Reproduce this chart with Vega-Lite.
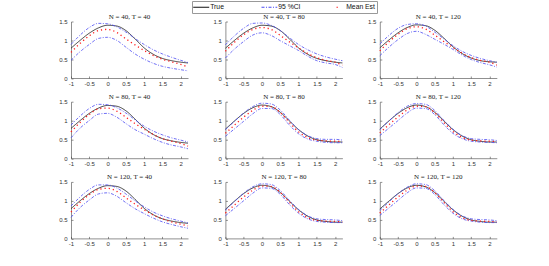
{
"$schema":"https://vega.github.io/schema/vega-lite/v6.json",
"background":"white",
"padding":{"left":58,"top":0.5,"right":5,"bottom":5},
"datasets":{"d":[
{"p":1,"s":"True","k":"T","x":-1,"y":0.79},{"p":1,"s":"True","k":"T","x":-0.75,"y":1.00},{"p":1,"s":"True","k":"T","x":-0.5,"y":1.19},{"p":1,"s":"True","k":"T","x":-0.25,"y":1.33},{"p":1,"s":"True","k":"T","x":0,"y":1.40},{"p":1,"s":"True","k":"T","x":0.25,"y":1.38},{"p":1,"s":"True","k":"T","x":0.5,"y":1.26},{"p":1,"s":"True","k":"T","x":0.75,"y":1.04},{"p":1,"s":"True","k":"T","x":1,"y":0.80},{"p":1,"s":"True","k":"T","x":1.25,"y":0.63},{"p":1,"s":"True","k":"T","x":1.5,"y":0.52},{"p":1,"s":"True","k":"T","x":1.75,"y":0.46},{"p":1,"s":"True","k":"T","x":2,"y":0.42},{"p":1,"s":"True","k":"T","x":2.2,"y":0.40},
{"p":1,"s":"95 %CI","k":"U","x":-1,"y":0.89},{"p":1,"s":"95 %CI","k":"U","x":-0.75,"y":1.14},{"p":1,"s":"95 %CI","k":"U","x":-0.5,"y":1.34},{"p":1,"s":"95 %CI","k":"U","x":-0.25,"y":1.45},{"p":1,"s":"95 %CI","k":"U","x":0,"y":1.44},{"p":1,"s":"95 %CI","k":"U","x":0.25,"y":1.36},{"p":1,"s":"95 %CI","k":"U","x":0.5,"y":1.22},{"p":1,"s":"95 %CI","k":"U","x":0.75,"y":1.05},{"p":1,"s":"95 %CI","k":"U","x":1,"y":0.89},{"p":1,"s":"95 %CI","k":"U","x":1.25,"y":0.75},{"p":1,"s":"95 %CI","k":"U","x":1.5,"y":0.64},{"p":1,"s":"95 %CI","k":"U","x":1.75,"y":0.55},{"p":1,"s":"95 %CI","k":"U","x":2,"y":0.47},{"p":1,"s":"95 %CI","k":"U","x":2.2,"y":0.41},
{"p":1,"s":"95 %CI","k":"L","x":-1,"y":0.47},{"p":1,"s":"95 %CI","k":"L","x":-0.75,"y":0.70},{"p":1,"s":"95 %CI","k":"L","x":-0.5,"y":0.89},{"p":1,"s":"95 %CI","k":"L","x":-0.25,"y":1.05},{"p":1,"s":"95 %CI","k":"L","x":0,"y":1.08},{"p":1,"s":"95 %CI","k":"L","x":0.25,"y":1.00},{"p":1,"s":"95 %CI","k":"L","x":0.5,"y":0.82},{"p":1,"s":"95 %CI","k":"L","x":0.75,"y":0.64},{"p":1,"s":"95 %CI","k":"L","x":1,"y":0.50},{"p":1,"s":"95 %CI","k":"L","x":1.25,"y":0.39},{"p":1,"s":"95 %CI","k":"L","x":1.5,"y":0.31},{"p":1,"s":"95 %CI","k":"L","x":1.75,"y":0.26},{"p":1,"s":"95 %CI","k":"L","x":2,"y":0.22},{"p":1,"s":"95 %CI","k":"L","x":2.2,"y":0.19},
{"p":1,"s":"Mean Est","k":"M","x":-1,"y":0.68},{"p":1,"s":"Mean Est","k":"M","x":-0.75,"y":0.92},{"p":1,"s":"Mean Est","k":"M","x":-0.5,"y":1.12},{"p":1,"s":"Mean Est","k":"M","x":-0.25,"y":1.26},{"p":1,"s":"Mean Est","k":"M","x":0,"y":1.29},{"p":1,"s":"Mean Est","k":"M","x":0.25,"y":1.21},{"p":1,"s":"Mean Est","k":"M","x":0.5,"y":1.04},{"p":1,"s":"Mean Est","k":"M","x":0.75,"y":0.88},{"p":1,"s":"Mean Est","k":"M","x":1,"y":0.73},{"p":1,"s":"Mean Est","k":"M","x":1.25,"y":0.60},{"p":1,"s":"Mean Est","k":"M","x":1.5,"y":0.50},{"p":1,"s":"Mean Est","k":"M","x":1.75,"y":0.43},{"p":1,"s":"Mean Est","k":"M","x":2,"y":0.36},{"p":1,"s":"Mean Est","k":"M","x":2.2,"y":0.29},

{"p":2,"s":"True","k":"T","x":-1,"y":0.79},{"p":2,"s":"True","k":"T","x":-0.75,"y":1.00},{"p":2,"s":"True","k":"T","x":-0.5,"y":1.19},{"p":2,"s":"True","k":"T","x":-0.25,"y":1.33},{"p":2,"s":"True","k":"T","x":0,"y":1.40},{"p":2,"s":"True","k":"T","x":0.25,"y":1.38},{"p":2,"s":"True","k":"T","x":0.5,"y":1.26},{"p":2,"s":"True","k":"T","x":0.75,"y":1.04},{"p":2,"s":"True","k":"T","x":1,"y":0.80},{"p":2,"s":"True","k":"T","x":1.25,"y":0.63},{"p":2,"s":"True","k":"T","x":1.5,"y":0.52},{"p":2,"s":"True","k":"T","x":1.75,"y":0.46},{"p":2,"s":"True","k":"T","x":2,"y":0.42},{"p":2,"s":"True","k":"T","x":2.2,"y":0.40},
{"p":2,"s":"95 %CI","k":"U","x":-1,"y":0.88},{"p":2,"s":"95 %CI","k":"U","x":-0.75,"y":1.12},{"p":2,"s":"95 %CI","k":"U","x":-0.5,"y":1.32},{"p":2,"s":"95 %CI","k":"U","x":-0.25,"y":1.45},{"p":2,"s":"95 %CI","k":"U","x":0,"y":1.46},{"p":2,"s":"95 %CI","k":"U","x":0.25,"y":1.40},{"p":2,"s":"95 %CI","k":"U","x":0.5,"y":1.26},{"p":2,"s":"95 %CI","k":"U","x":0.75,"y":1.07},{"p":2,"s":"95 %CI","k":"U","x":1,"y":0.89},{"p":2,"s":"95 %CI","k":"U","x":1.25,"y":0.75},{"p":2,"s":"95 %CI","k":"U","x":1.5,"y":0.64},{"p":2,"s":"95 %CI","k":"U","x":1.75,"y":0.56},{"p":2,"s":"95 %CI","k":"U","x":2,"y":0.50},{"p":2,"s":"95 %CI","k":"U","x":2.2,"y":0.46},
{"p":2,"s":"95 %CI","k":"L","x":-1,"y":0.53},{"p":2,"s":"95 %CI","k":"L","x":-0.75,"y":0.77},{"p":2,"s":"95 %CI","k":"L","x":-0.5,"y":0.97},{"p":2,"s":"95 %CI","k":"L","x":-0.25,"y":1.14},{"p":2,"s":"95 %CI","k":"L","x":0,"y":1.20},{"p":2,"s":"95 %CI","k":"L","x":0.25,"y":1.13},{"p":2,"s":"95 %CI","k":"L","x":0.5,"y":0.99},{"p":2,"s":"95 %CI","k":"L","x":0.75,"y":0.86},{"p":2,"s":"95 %CI","k":"L","x":1,"y":0.73},{"p":2,"s":"95 %CI","k":"L","x":1.25,"y":0.58},{"p":2,"s":"95 %CI","k":"L","x":1.5,"y":0.46},{"p":2,"s":"95 %CI","k":"L","x":1.75,"y":0.40},{"p":2,"s":"95 %CI","k":"L","x":2,"y":0.36},{"p":2,"s":"95 %CI","k":"L","x":2.2,"y":0.28},
{"p":2,"s":"Mean Est","k":"M","x":-1,"y":0.71},{"p":2,"s":"Mean Est","k":"M","x":-0.75,"y":0.95},{"p":2,"s":"Mean Est","k":"M","x":-0.5,"y":1.15},{"p":2,"s":"Mean Est","k":"M","x":-0.25,"y":1.29},{"p":2,"s":"Mean Est","k":"M","x":0,"y":1.34},{"p":2,"s":"Mean Est","k":"M","x":0.25,"y":1.29},{"p":2,"s":"Mean Est","k":"M","x":0.5,"y":1.13},{"p":2,"s":"Mean Est","k":"M","x":0.75,"y":0.96},{"p":2,"s":"Mean Est","k":"M","x":1,"y":0.80},{"p":2,"s":"Mean Est","k":"M","x":1.25,"y":0.65},{"p":2,"s":"Mean Est","k":"M","x":1.5,"y":0.54},{"p":2,"s":"Mean Est","k":"M","x":1.75,"y":0.47},{"p":2,"s":"Mean Est","k":"M","x":2,"y":0.42},{"p":2,"s":"Mean Est","k":"M","x":2.2,"y":0.34},

{"p":3,"s":"True","k":"T","x":-1,"y":0.80},{"p":3,"s":"True","k":"T","x":-0.75,"y":1.01},{"p":3,"s":"True","k":"T","x":-0.5,"y":1.20},{"p":3,"s":"True","k":"T","x":-0.25,"y":1.34},{"p":3,"s":"True","k":"T","x":0,"y":1.41},{"p":3,"s":"True","k":"T","x":0.25,"y":1.39},{"p":3,"s":"True","k":"T","x":0.5,"y":1.27},{"p":3,"s":"True","k":"T","x":0.75,"y":1.06},{"p":3,"s":"True","k":"T","x":1,"y":0.83},{"p":3,"s":"True","k":"T","x":1.25,"y":0.65},{"p":3,"s":"True","k":"T","x":1.5,"y":0.53},{"p":3,"s":"True","k":"T","x":1.75,"y":0.46},{"p":3,"s":"True","k":"T","x":2,"y":0.43},{"p":3,"s":"True","k":"T","x":2.2,"y":0.42},
{"p":3,"s":"95 %CI","k":"U","x":-1,"y":0.90},{"p":3,"s":"95 %CI","k":"U","x":-0.75,"y":1.13},{"p":3,"s":"95 %CI","k":"U","x":-0.5,"y":1.32},{"p":3,"s":"95 %CI","k":"U","x":-0.25,"y":1.42},{"p":3,"s":"95 %CI","k":"U","x":0,"y":1.44},{"p":3,"s":"95 %CI","k":"U","x":0.25,"y":1.38},{"p":3,"s":"95 %CI","k":"U","x":0.5,"y":1.22},{"p":3,"s":"95 %CI","k":"U","x":0.75,"y":1.04},{"p":3,"s":"95 %CI","k":"U","x":1,"y":0.86},{"p":3,"s":"95 %CI","k":"U","x":1.25,"y":0.71},{"p":3,"s":"95 %CI","k":"U","x":1.5,"y":0.60},{"p":3,"s":"95 %CI","k":"U","x":1.75,"y":0.52},{"p":3,"s":"95 %CI","k":"U","x":2,"y":0.46},{"p":3,"s":"95 %CI","k":"U","x":2.2,"y":0.42},
{"p":3,"s":"95 %CI","k":"L","x":-1,"y":0.59},{"p":3,"s":"95 %CI","k":"L","x":-0.75,"y":0.82},{"p":3,"s":"95 %CI","k":"L","x":-0.5,"y":1.02},{"p":3,"s":"95 %CI","k":"L","x":-0.25,"y":1.18},{"p":3,"s":"95 %CI","k":"L","x":0,"y":1.24},{"p":3,"s":"95 %CI","k":"L","x":0.25,"y":1.16},{"p":3,"s":"95 %CI","k":"L","x":0.5,"y":1.03},{"p":3,"s":"95 %CI","k":"L","x":0.75,"y":0.90},{"p":3,"s":"95 %CI","k":"L","x":1,"y":0.76},{"p":3,"s":"95 %CI","k":"L","x":1.25,"y":0.61},{"p":3,"s":"95 %CI","k":"L","x":1.5,"y":0.49},{"p":3,"s":"95 %CI","k":"L","x":1.75,"y":0.41},{"p":3,"s":"95 %CI","k":"L","x":2,"y":0.35},{"p":3,"s":"95 %CI","k":"L","x":2.2,"y":0.29},
{"p":3,"s":"Mean Est","k":"M","x":-1,"y":0.72},{"p":3,"s":"Mean Est","k":"M","x":-0.75,"y":0.96},{"p":3,"s":"Mean Est","k":"M","x":-0.5,"y":1.16},{"p":3,"s":"Mean Est","k":"M","x":-0.25,"y":1.31},{"p":3,"s":"Mean Est","k":"M","x":0,"y":1.36},{"p":3,"s":"Mean Est","k":"M","x":0.25,"y":1.30},{"p":3,"s":"Mean Est","k":"M","x":0.5,"y":1.14},{"p":3,"s":"Mean Est","k":"M","x":0.75,"y":0.97},{"p":3,"s":"Mean Est","k":"M","x":1,"y":0.81},{"p":3,"s":"Mean Est","k":"M","x":1.25,"y":0.66},{"p":3,"s":"Mean Est","k":"M","x":1.5,"y":0.54},{"p":3,"s":"Mean Est","k":"M","x":1.75,"y":0.47},{"p":3,"s":"Mean Est","k":"M","x":2,"y":0.42},{"p":3,"s":"Mean Est","k":"M","x":2.2,"y":0.34},

{"p":4,"s":"True","k":"T","x":-1,"y":0.79},{"p":4,"s":"True","k":"T","x":-0.75,"y":1.00},{"p":4,"s":"True","k":"T","x":-0.5,"y":1.19},{"p":4,"s":"True","k":"T","x":-0.25,"y":1.33},{"p":4,"s":"True","k":"T","x":0,"y":1.40},{"p":4,"s":"True","k":"T","x":0.25,"y":1.38},{"p":4,"s":"True","k":"T","x":0.5,"y":1.26},{"p":4,"s":"True","k":"T","x":0.75,"y":1.04},{"p":4,"s":"True","k":"T","x":1,"y":0.80},{"p":4,"s":"True","k":"T","x":1.25,"y":0.63},{"p":4,"s":"True","k":"T","x":1.5,"y":0.52},{"p":4,"s":"True","k":"T","x":1.75,"y":0.46},{"p":4,"s":"True","k":"T","x":2,"y":0.42},{"p":4,"s":"True","k":"T","x":2.2,"y":0.40},
{"p":4,"s":"95 %CI","k":"U","x":-1,"y":0.88},{"p":4,"s":"95 %CI","k":"U","x":-0.75,"y":1.12},{"p":4,"s":"95 %CI","k":"U","x":-0.5,"y":1.32},{"p":4,"s":"95 %CI","k":"U","x":-0.25,"y":1.43},{"p":4,"s":"95 %CI","k":"U","x":0,"y":1.42},{"p":4,"s":"95 %CI","k":"U","x":0.25,"y":1.34},{"p":4,"s":"95 %CI","k":"U","x":0.5,"y":1.20},{"p":4,"s":"95 %CI","k":"U","x":0.75,"y":1.02},{"p":4,"s":"95 %CI","k":"U","x":1,"y":0.85},{"p":4,"s":"95 %CI","k":"U","x":1.25,"y":0.72},{"p":4,"s":"95 %CI","k":"U","x":1.5,"y":0.62},{"p":4,"s":"95 %CI","k":"U","x":1.75,"y":0.54},{"p":4,"s":"95 %CI","k":"U","x":2,"y":0.48},{"p":4,"s":"95 %CI","k":"U","x":2.2,"y":0.43},
{"p":4,"s":"95 %CI","k":"L","x":-1,"y":0.54},{"p":4,"s":"95 %CI","k":"L","x":-0.75,"y":0.80},{"p":4,"s":"95 %CI","k":"L","x":-0.5,"y":1.00},{"p":4,"s":"95 %CI","k":"L","x":-0.25,"y":1.17},{"p":4,"s":"95 %CI","k":"L","x":0,"y":1.19},{"p":4,"s":"95 %CI","k":"L","x":0.25,"y":1.09},{"p":4,"s":"95 %CI","k":"L","x":0.5,"y":0.92},{"p":4,"s":"95 %CI","k":"L","x":0.75,"y":0.76},{"p":4,"s":"95 %CI","k":"L","x":1,"y":0.64},{"p":4,"s":"95 %CI","k":"L","x":1.25,"y":0.52},{"p":4,"s":"95 %CI","k":"L","x":1.5,"y":0.42},{"p":4,"s":"95 %CI","k":"L","x":1.75,"y":0.35},{"p":4,"s":"95 %CI","k":"L","x":2,"y":0.30},{"p":4,"s":"95 %CI","k":"L","x":2.2,"y":0.25},
{"p":4,"s":"Mean Est","k":"M","x":-1,"y":0.70},{"p":4,"s":"Mean Est","k":"M","x":-0.75,"y":0.95},{"p":4,"s":"Mean Est","k":"M","x":-0.5,"y":1.16},{"p":4,"s":"Mean Est","k":"M","x":-0.25,"y":1.31},{"p":4,"s":"Mean Est","k":"M","x":0,"y":1.33},{"p":4,"s":"Mean Est","k":"M","x":0.25,"y":1.25},{"p":4,"s":"Mean Est","k":"M","x":0.5,"y":1.09},{"p":4,"s":"Mean Est","k":"M","x":0.75,"y":0.92},{"p":4,"s":"Mean Est","k":"M","x":1,"y":0.77},{"p":4,"s":"Mean Est","k":"M","x":1.25,"y":0.63},{"p":4,"s":"Mean Est","k":"M","x":1.5,"y":0.52},{"p":4,"s":"Mean Est","k":"M","x":1.75,"y":0.45},{"p":4,"s":"Mean Est","k":"M","x":2,"y":0.39},{"p":4,"s":"Mean Est","k":"M","x":2.2,"y":0.32},

{"p":5,"s":"True","k":"T","x":-1,"y":0.77},{"p":5,"s":"True","k":"T","x":-0.75,"y":0.99},{"p":5,"s":"True","k":"T","x":-0.5,"y":1.19},{"p":5,"s":"True","k":"T","x":-0.25,"y":1.34},{"p":5,"s":"True","k":"T","x":0,"y":1.41},{"p":5,"s":"True","k":"T","x":0.25,"y":1.37},{"p":5,"s":"True","k":"T","x":0.5,"y":1.22},{"p":5,"s":"True","k":"T","x":0.75,"y":0.99},{"p":5,"s":"True","k":"T","x":1,"y":0.76},{"p":5,"s":"True","k":"T","x":1.25,"y":0.59},{"p":5,"s":"True","k":"T","x":1.5,"y":0.49},{"p":5,"s":"True","k":"T","x":1.75,"y":0.45},{"p":5,"s":"True","k":"T","x":2,"y":0.43},{"p":5,"s":"True","k":"T","x":2.2,"y":0.43},
{"p":5,"s":"95 %CI","k":"U","x":-1,"y":0.76},{"p":5,"s":"95 %CI","k":"U","x":-0.75,"y":0.98},{"p":5,"s":"95 %CI","k":"U","x":-0.5,"y":1.20},{"p":5,"s":"95 %CI","k":"U","x":-0.25,"y":1.37},{"p":5,"s":"95 %CI","k":"U","x":0,"y":1.46},{"p":5,"s":"95 %CI","k":"U","x":0.25,"y":1.44},{"p":5,"s":"95 %CI","k":"U","x":0.5,"y":1.28},{"p":5,"s":"95 %CI","k":"U","x":0.75,"y":1.01},{"p":5,"s":"95 %CI","k":"U","x":1,"y":0.76},{"p":5,"s":"95 %CI","k":"U","x":1.25,"y":0.60},{"p":5,"s":"95 %CI","k":"U","x":1.5,"y":0.52},{"p":5,"s":"95 %CI","k":"U","x":1.75,"y":0.50},{"p":5,"s":"95 %CI","k":"U","x":2,"y":0.50},{"p":5,"s":"95 %CI","k":"U","x":2.2,"y":0.48},
{"p":5,"s":"95 %CI","k":"L","x":-1,"y":0.58},{"p":5,"s":"95 %CI","k":"L","x":-0.75,"y":0.78},{"p":5,"s":"95 %CI","k":"L","x":-0.5,"y":0.98},{"p":5,"s":"95 %CI","k":"L","x":-0.25,"y":1.18},{"p":5,"s":"95 %CI","k":"L","x":0,"y":1.32},{"p":5,"s":"95 %CI","k":"L","x":0.25,"y":1.32},{"p":5,"s":"95 %CI","k":"L","x":0.5,"y":1.16},{"p":5,"s":"95 %CI","k":"L","x":0.75,"y":0.88},{"p":5,"s":"95 %CI","k":"L","x":1,"y":0.65},{"p":5,"s":"95 %CI","k":"L","x":1.25,"y":0.51},{"p":5,"s":"95 %CI","k":"L","x":1.5,"y":0.45},{"p":5,"s":"95 %CI","k":"L","x":1.75,"y":0.42},{"p":5,"s":"95 %CI","k":"L","x":2,"y":0.41},{"p":5,"s":"95 %CI","k":"L","x":2.2,"y":0.41},
{"p":5,"s":"Mean Est","k":"M","x":-1,"y":0.66},{"p":5,"s":"Mean Est","k":"M","x":-0.75,"y":0.88},{"p":5,"s":"Mean Est","k":"M","x":-0.5,"y":1.09},{"p":5,"s":"Mean Est","k":"M","x":-0.25,"y":1.27},{"p":5,"s":"Mean Est","k":"M","x":0,"y":1.38},{"p":5,"s":"Mean Est","k":"M","x":0.25,"y":1.37},{"p":5,"s":"Mean Est","k":"M","x":0.5,"y":1.21},{"p":5,"s":"Mean Est","k":"M","x":0.75,"y":0.95},{"p":5,"s":"Mean Est","k":"M","x":1,"y":0.70},{"p":5,"s":"Mean Est","k":"M","x":1.25,"y":0.55},{"p":5,"s":"Mean Est","k":"M","x":1.5,"y":0.48},{"p":5,"s":"Mean Est","k":"M","x":1.75,"y":0.46},{"p":5,"s":"Mean Est","k":"M","x":2,"y":0.45},{"p":5,"s":"Mean Est","k":"M","x":2.2,"y":0.44},

{"p":6,"s":"True","k":"T","x":-1,"y":0.77},{"p":6,"s":"True","k":"T","x":-0.75,"y":0.99},{"p":6,"s":"True","k":"T","x":-0.5,"y":1.19},{"p":6,"s":"True","k":"T","x":-0.25,"y":1.34},{"p":6,"s":"True","k":"T","x":0,"y":1.41},{"p":6,"s":"True","k":"T","x":0.25,"y":1.37},{"p":6,"s":"True","k":"T","x":0.5,"y":1.22},{"p":6,"s":"True","k":"T","x":0.75,"y":0.99},{"p":6,"s":"True","k":"T","x":1,"y":0.76},{"p":6,"s":"True","k":"T","x":1.25,"y":0.59},{"p":6,"s":"True","k":"T","x":1.5,"y":0.49},{"p":6,"s":"True","k":"T","x":1.75,"y":0.45},{"p":6,"s":"True","k":"T","x":2,"y":0.43},{"p":6,"s":"True","k":"T","x":2.2,"y":0.43},
{"p":6,"s":"95 %CI","k":"U","x":-1,"y":0.76},{"p":6,"s":"95 %CI","k":"U","x":-0.75,"y":0.99},{"p":6,"s":"95 %CI","k":"U","x":-0.5,"y":1.21},{"p":6,"s":"95 %CI","k":"U","x":-0.25,"y":1.38},{"p":6,"s":"95 %CI","k":"U","x":0,"y":1.45},{"p":6,"s":"95 %CI","k":"U","x":0.25,"y":1.43},{"p":6,"s":"95 %CI","k":"U","x":0.5,"y":1.27},{"p":6,"s":"95 %CI","k":"U","x":0.75,"y":1.01},{"p":6,"s":"95 %CI","k":"U","x":1,"y":0.77},{"p":6,"s":"95 %CI","k":"U","x":1.25,"y":0.60},{"p":6,"s":"95 %CI","k":"U","x":1.5,"y":0.52},{"p":6,"s":"95 %CI","k":"U","x":1.75,"y":0.50},{"p":6,"s":"95 %CI","k":"U","x":2,"y":0.49},{"p":6,"s":"95 %CI","k":"U","x":2.2,"y":0.47},
{"p":6,"s":"95 %CI","k":"L","x":-1,"y":0.60},{"p":6,"s":"95 %CI","k":"L","x":-0.75,"y":0.80},{"p":6,"s":"95 %CI","k":"L","x":-0.5,"y":1.00},{"p":6,"s":"95 %CI","k":"L","x":-0.25,"y":1.20},{"p":6,"s":"95 %CI","k":"L","x":0,"y":1.33},{"p":6,"s":"95 %CI","k":"L","x":0.25,"y":1.32},{"p":6,"s":"95 %CI","k":"L","x":0.5,"y":1.16},{"p":6,"s":"95 %CI","k":"L","x":0.75,"y":0.89},{"p":6,"s":"95 %CI","k":"L","x":1,"y":0.66},{"p":6,"s":"95 %CI","k":"L","x":1.25,"y":0.52},{"p":6,"s":"95 %CI","k":"L","x":1.5,"y":0.45},{"p":6,"s":"95 %CI","k":"L","x":1.75,"y":0.43},{"p":6,"s":"95 %CI","k":"L","x":2,"y":0.42},{"p":6,"s":"95 %CI","k":"L","x":2.2,"y":0.41},
{"p":6,"s":"Mean Est","k":"M","x":-1,"y":0.67},{"p":6,"s":"Mean Est","k":"M","x":-0.75,"y":0.89},{"p":6,"s":"Mean Est","k":"M","x":-0.5,"y":1.10},{"p":6,"s":"Mean Est","k":"M","x":-0.25,"y":1.28},{"p":6,"s":"Mean Est","k":"M","x":0,"y":1.38},{"p":6,"s":"Mean Est","k":"M","x":0.25,"y":1.37},{"p":6,"s":"Mean Est","k":"M","x":0.5,"y":1.21},{"p":6,"s":"Mean Est","k":"M","x":0.75,"y":0.95},{"p":6,"s":"Mean Est","k":"M","x":1,"y":0.71},{"p":6,"s":"Mean Est","k":"M","x":1.25,"y":0.55},{"p":6,"s":"Mean Est","k":"M","x":1.5,"y":0.48},{"p":6,"s":"Mean Est","k":"M","x":1.75,"y":0.46},{"p":6,"s":"Mean Est","k":"M","x":2,"y":0.45},{"p":6,"s":"Mean Est","k":"M","x":2.2,"y":0.44},

{"p":7,"s":"True","k":"T","x":-1,"y":0.79},{"p":7,"s":"True","k":"T","x":-0.75,"y":1.00},{"p":7,"s":"True","k":"T","x":-0.5,"y":1.19},{"p":7,"s":"True","k":"T","x":-0.25,"y":1.33},{"p":7,"s":"True","k":"T","x":0,"y":1.40},{"p":7,"s":"True","k":"T","x":0.25,"y":1.38},{"p":7,"s":"True","k":"T","x":0.5,"y":1.26},{"p":7,"s":"True","k":"T","x":0.75,"y":1.04},{"p":7,"s":"True","k":"T","x":1,"y":0.80},{"p":7,"s":"True","k":"T","x":1.25,"y":0.63},{"p":7,"s":"True","k":"T","x":1.5,"y":0.52},{"p":7,"s":"True","k":"T","x":1.75,"y":0.46},{"p":7,"s":"True","k":"T","x":2,"y":0.42},{"p":7,"s":"True","k":"T","x":2.2,"y":0.40},
{"p":7,"s":"95 %CI","k":"U","x":-1,"y":0.86},{"p":7,"s":"95 %CI","k":"U","x":-0.75,"y":1.10},{"p":7,"s":"95 %CI","k":"U","x":-0.5,"y":1.30},{"p":7,"s":"95 %CI","k":"U","x":-0.25,"y":1.42},{"p":7,"s":"95 %CI","k":"U","x":0,"y":1.42},{"p":7,"s":"95 %CI","k":"U","x":0.25,"y":1.34},{"p":7,"s":"95 %CI","k":"U","x":0.5,"y":1.18},{"p":7,"s":"95 %CI","k":"U","x":0.75,"y":1.00},{"p":7,"s":"95 %CI","k":"U","x":1,"y":0.84},{"p":7,"s":"95 %CI","k":"U","x":1.25,"y":0.70},{"p":7,"s":"95 %CI","k":"U","x":1.5,"y":0.60},{"p":7,"s":"95 %CI","k":"U","x":1.75,"y":0.52},{"p":7,"s":"95 %CI","k":"U","x":2,"y":0.46},{"p":7,"s":"95 %CI","k":"U","x":2.2,"y":0.41},
{"p":7,"s":"95 %CI","k":"L","x":-1,"y":0.56},{"p":7,"s":"95 %CI","k":"L","x":-0.75,"y":0.82},{"p":7,"s":"95 %CI","k":"L","x":-0.5,"y":1.02},{"p":7,"s":"95 %CI","k":"L","x":-0.25,"y":1.18},{"p":7,"s":"95 %CI","k":"L","x":0,"y":1.21},{"p":7,"s":"95 %CI","k":"L","x":0.25,"y":1.12},{"p":7,"s":"95 %CI","k":"L","x":0.5,"y":0.95},{"p":7,"s":"95 %CI","k":"L","x":0.75,"y":0.79},{"p":7,"s":"95 %CI","k":"L","x":1,"y":0.66},{"p":7,"s":"95 %CI","k":"L","x":1.25,"y":0.54},{"p":7,"s":"95 %CI","k":"L","x":1.5,"y":0.44},{"p":7,"s":"95 %CI","k":"L","x":1.75,"y":0.37},{"p":7,"s":"95 %CI","k":"L","x":2,"y":0.31},{"p":7,"s":"95 %CI","k":"L","x":2.2,"y":0.27},
{"p":7,"s":"Mean Est","k":"M","x":-1,"y":0.70},{"p":7,"s":"Mean Est","k":"M","x":-0.75,"y":0.96},{"p":7,"s":"Mean Est","k":"M","x":-0.5,"y":1.16},{"p":7,"s":"Mean Est","k":"M","x":-0.25,"y":1.30},{"p":7,"s":"Mean Est","k":"M","x":0,"y":1.33},{"p":7,"s":"Mean Est","k":"M","x":0.25,"y":1.25},{"p":7,"s":"Mean Est","k":"M","x":0.5,"y":1.08},{"p":7,"s":"Mean Est","k":"M","x":0.75,"y":0.91},{"p":7,"s":"Mean Est","k":"M","x":1,"y":0.76},{"p":7,"s":"Mean Est","k":"M","x":1.25,"y":0.62},{"p":7,"s":"Mean Est","k":"M","x":1.5,"y":0.52},{"p":7,"s":"Mean Est","k":"M","x":1.75,"y":0.44},{"p":7,"s":"Mean Est","k":"M","x":2,"y":0.38},{"p":7,"s":"Mean Est","k":"M","x":2.2,"y":0.33},

{"p":8,"s":"True","k":"T","x":-1,"y":0.77},{"p":8,"s":"True","k":"T","x":-0.75,"y":0.99},{"p":8,"s":"True","k":"T","x":-0.5,"y":1.19},{"p":8,"s":"True","k":"T","x":-0.25,"y":1.34},{"p":8,"s":"True","k":"T","x":0,"y":1.41},{"p":8,"s":"True","k":"T","x":0.25,"y":1.37},{"p":8,"s":"True","k":"T","x":0.5,"y":1.22},{"p":8,"s":"True","k":"T","x":0.75,"y":0.99},{"p":8,"s":"True","k":"T","x":1,"y":0.76},{"p":8,"s":"True","k":"T","x":1.25,"y":0.59},{"p":8,"s":"True","k":"T","x":1.5,"y":0.49},{"p":8,"s":"True","k":"T","x":1.75,"y":0.45},{"p":8,"s":"True","k":"T","x":2,"y":0.43},{"p":8,"s":"True","k":"T","x":2.2,"y":0.43},
{"p":8,"s":"95 %CI","k":"U","x":-1,"y":0.75},{"p":8,"s":"95 %CI","k":"U","x":-0.75,"y":0.98},{"p":8,"s":"95 %CI","k":"U","x":-0.5,"y":1.20},{"p":8,"s":"95 %CI","k":"U","x":-0.25,"y":1.37},{"p":8,"s":"95 %CI","k":"U","x":0,"y":1.45},{"p":8,"s":"95 %CI","k":"U","x":0.25,"y":1.43},{"p":8,"s":"95 %CI","k":"U","x":0.5,"y":1.27},{"p":8,"s":"95 %CI","k":"U","x":0.75,"y":1.01},{"p":8,"s":"95 %CI","k":"U","x":1,"y":0.77},{"p":8,"s":"95 %CI","k":"U","x":1.25,"y":0.60},{"p":8,"s":"95 %CI","k":"U","x":1.5,"y":0.52},{"p":8,"s":"95 %CI","k":"U","x":1.75,"y":0.50},{"p":8,"s":"95 %CI","k":"U","x":2,"y":0.49},{"p":8,"s":"95 %CI","k":"U","x":2.2,"y":0.47},
{"p":8,"s":"95 %CI","k":"L","x":-1,"y":0.60},{"p":8,"s":"95 %CI","k":"L","x":-0.75,"y":0.80},{"p":8,"s":"95 %CI","k":"L","x":-0.5,"y":1.00},{"p":8,"s":"95 %CI","k":"L","x":-0.25,"y":1.20},{"p":8,"s":"95 %CI","k":"L","x":0,"y":1.34},{"p":8,"s":"95 %CI","k":"L","x":0.25,"y":1.33},{"p":8,"s":"95 %CI","k":"L","x":0.5,"y":1.17},{"p":8,"s":"95 %CI","k":"L","x":0.75,"y":0.90},{"p":8,"s":"95 %CI","k":"L","x":1,"y":0.67},{"p":8,"s":"95 %CI","k":"L","x":1.25,"y":0.52},{"p":8,"s":"95 %CI","k":"L","x":1.5,"y":0.45},{"p":8,"s":"95 %CI","k":"L","x":1.75,"y":0.43},{"p":8,"s":"95 %CI","k":"L","x":2,"y":0.42},{"p":8,"s":"95 %CI","k":"L","x":2.2,"y":0.42},
{"p":8,"s":"Mean Est","k":"M","x":-1,"y":0.67},{"p":8,"s":"Mean Est","k":"M","x":-0.75,"y":0.89},{"p":8,"s":"Mean Est","k":"M","x":-0.5,"y":1.10},{"p":8,"s":"Mean Est","k":"M","x":-0.25,"y":1.28},{"p":8,"s":"Mean Est","k":"M","x":0,"y":1.39},{"p":8,"s":"Mean Est","k":"M","x":0.25,"y":1.38},{"p":8,"s":"Mean Est","k":"M","x":0.5,"y":1.22},{"p":8,"s":"Mean Est","k":"M","x":0.75,"y":0.96},{"p":8,"s":"Mean Est","k":"M","x":1,"y":0.71},{"p":8,"s":"Mean Est","k":"M","x":1.25,"y":0.55},{"p":8,"s":"Mean Est","k":"M","x":1.5,"y":0.48},{"p":8,"s":"Mean Est","k":"M","x":1.75,"y":0.46},{"p":8,"s":"Mean Est","k":"M","x":2,"y":0.45},{"p":8,"s":"Mean Est","k":"M","x":2.2,"y":0.44},

{"p":9,"s":"True","k":"T","x":-1,"y":0.78},{"p":9,"s":"True","k":"T","x":-0.75,"y":0.99},{"p":9,"s":"True","k":"T","x":-0.5,"y":1.19},{"p":9,"s":"True","k":"T","x":-0.25,"y":1.34},{"p":9,"s":"True","k":"T","x":0,"y":1.41},{"p":9,"s":"True","k":"T","x":0.25,"y":1.37},{"p":9,"s":"True","k":"T","x":0.5,"y":1.22},{"p":9,"s":"True","k":"T","x":0.75,"y":0.99},{"p":9,"s":"True","k":"T","x":1,"y":0.76},{"p":9,"s":"True","k":"T","x":1.25,"y":0.59},{"p":9,"s":"True","k":"T","x":1.5,"y":0.49},{"p":9,"s":"True","k":"T","x":1.75,"y":0.45},{"p":9,"s":"True","k":"T","x":2,"y":0.43},{"p":9,"s":"True","k":"T","x":2.2,"y":0.43},
{"p":9,"s":"95 %CI","k":"U","x":-1,"y":0.74},{"p":9,"s":"95 %CI","k":"U","x":-0.75,"y":0.97},{"p":9,"s":"95 %CI","k":"U","x":-0.5,"y":1.19},{"p":9,"s":"95 %CI","k":"U","x":-0.25,"y":1.36},{"p":9,"s":"95 %CI","k":"U","x":0,"y":1.45},{"p":9,"s":"95 %CI","k":"U","x":0.25,"y":1.43},{"p":9,"s":"95 %CI","k":"U","x":0.5,"y":1.27},{"p":9,"s":"95 %CI","k":"U","x":0.75,"y":1.01},{"p":9,"s":"95 %CI","k":"U","x":1,"y":0.77},{"p":9,"s":"95 %CI","k":"U","x":1.25,"y":0.60},{"p":9,"s":"95 %CI","k":"U","x":1.5,"y":0.52},{"p":9,"s":"95 %CI","k":"U","x":1.75,"y":0.50},{"p":9,"s":"95 %CI","k":"U","x":2,"y":0.49},{"p":9,"s":"95 %CI","k":"U","x":2.2,"y":0.47},
{"p":9,"s":"95 %CI","k":"L","x":-1,"y":0.61},{"p":9,"s":"95 %CI","k":"L","x":-0.75,"y":0.81},{"p":9,"s":"95 %CI","k":"L","x":-0.5,"y":1.01},{"p":9,"s":"95 %CI","k":"L","x":-0.25,"y":1.21},{"p":9,"s":"95 %CI","k":"L","x":0,"y":1.34},{"p":9,"s":"95 %CI","k":"L","x":0.25,"y":1.33},{"p":9,"s":"95 %CI","k":"L","x":0.5,"y":1.17},{"p":9,"s":"95 %CI","k":"L","x":0.75,"y":0.90},{"p":9,"s":"95 %CI","k":"L","x":1,"y":0.67},{"p":9,"s":"95 %CI","k":"L","x":1.25,"y":0.52},{"p":9,"s":"95 %CI","k":"L","x":1.5,"y":0.46},{"p":9,"s":"95 %CI","k":"L","x":1.75,"y":0.43},{"p":9,"s":"95 %CI","k":"L","x":2,"y":0.42},{"p":9,"s":"95 %CI","k":"L","x":2.2,"y":0.42},
{"p":9,"s":"Mean Est","k":"M","x":-1,"y":0.67},{"p":9,"s":"Mean Est","k":"M","x":-0.75,"y":0.89},{"p":9,"s":"Mean Est","k":"M","x":-0.5,"y":1.10},{"p":9,"s":"Mean Est","k":"M","x":-0.25,"y":1.28},{"p":9,"s":"Mean Est","k":"M","x":0,"y":1.39},{"p":9,"s":"Mean Est","k":"M","x":0.25,"y":1.38},{"p":9,"s":"Mean Est","k":"M","x":0.5,"y":1.22},{"p":9,"s":"Mean Est","k":"M","x":0.75,"y":0.96},{"p":9,"s":"Mean Est","k":"M","x":1,"y":0.71},{"p":9,"s":"Mean Est","k":"M","x":1.25,"y":0.55},{"p":9,"s":"Mean Est","k":"M","x":1.5,"y":0.48},{"p":9,"s":"Mean Est","k":"M","x":1.75,"y":0.46},{"p":9,"s":"Mean Est","k":"M","x":2,"y":0.45},{"p":9,"s":"Mean Est","k":"M","x":2.2,"y":0.44}
]},
"data":{"name":"d"},
"facet":{"field":"p","type":"ordinal","title":null,"header":{"labelExpr":"['N = 40, T = 40','N = 40, T = 80','N = 40, T = 120','N = 80, T = 40','N = 80, T = 80','N = 80, T = 120','N = 120, T = 40','N = 120, T = 80','N = 120, T = 120'][datum.value-1]","labelFont":"Liberation Serif","labelFontSize":7,"labelColor":"#222","labelPadding":-1}},
"columns":3,
"bounds":"flush",
"spacing":{"row":23.2,"column":37.4},
"resolve":{"axis":{"x":"independent","y":"independent"}},
"spec":{
"width":117,"height":56.5,
"encoding":{
"x":{"field":"x","type":"quantitative","scale":{"domain":[-1,2.2],"nice":false,"zero":false},"axis":{"values":[-1,-0.5,0,0.5,1,1.5,2],"labelExpr":"datum.value < 0 ? '-' + format(-datum.value, '~g') : format(datum.value, '~g')","labelPadding":4,"title":null}},
"y":{"field":"y","type":"quantitative","scale":{"domain":[0,1.5],"nice":false},"axis":{"values":[0,0.5,1,1.5],"format":"~g","labelPadding":6,"title":null}},
"color":{"field":"s","type":"nominal","scale":{"domain":["True","95 %CI","Mean Est"],"range":["#111111","#4b4bf2","#ff1a1a"]},
"legend":{"orient":"none","legendX":121,"legendY":-20.5,"direction":"horizontal","columns":3,"gridAlign":"all","title":null,"strokeColor":"#999999","fillColor":"white","padding":1.2,"columnPadding":19,"symbolType":"M-2,0H2","symbolSize":64,"symbolStrokeWidth":1.1,"symbolDashOffset":-7.3,"symbolOffset":3,"labelOffset":4,"labelFont":"Liberation Sans","labelFontSize":6.8,"labelColor":"#111"}},
"detail":{"field":"k"}
},
"layer":[
{"transform":[{"filter":"datum.s != 'Mean Est'"}],"mark":{"type":"line","interpolate":"monotone","strokeWidth":0.8},
 "encoding":{"strokeDash":{"field":"s","type":"nominal","scale":{"domain":["True","95 %CI","Mean Est"],"range":[[1,0],[3,1.5,1,1.5],[1.4,40]]},"legend":{"title":null}}}},
{"transform":[{"filter":"datum.s == 'Mean Est'"}],"mark":{"type":"line","interpolate":"monotone","strokeWidth":1.3,"strokeDash":[1.2,3]}}
]
},
"config":{
"view":{"stroke":null},
"axis":{"grid":false,"domainColor":"#444","domainWidth":0.6,"ticks":true,"tickSize":-2,"tickColor":"#444","tickWidth":0.6,"labelFont":"Liberation Sans","labelFontSize":6,"labelColor":"#333","labelFlush":false}
}
}
